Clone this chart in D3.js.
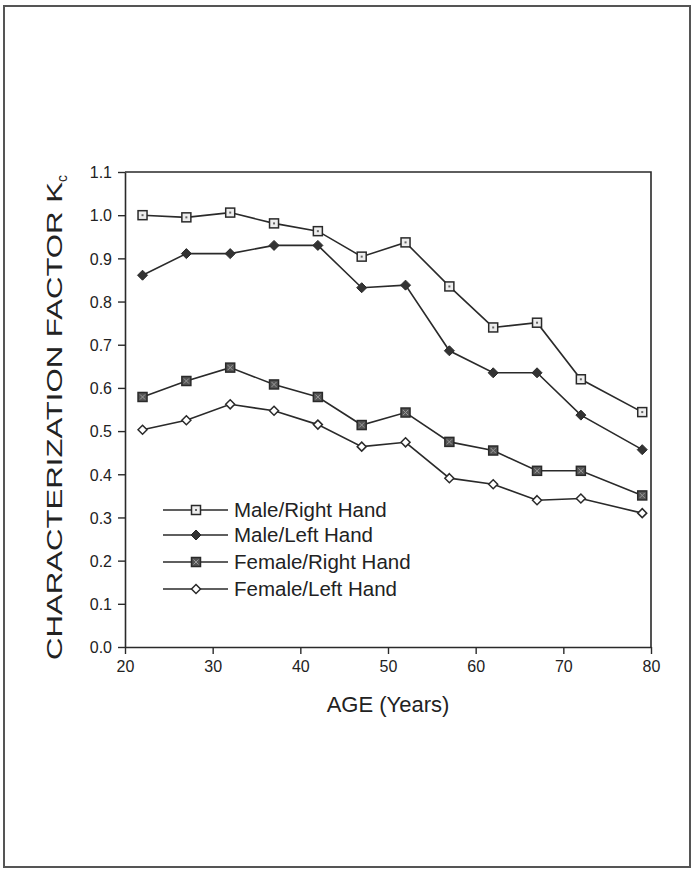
<!DOCTYPE html>
<html>
<head>
<meta charset="utf-8">
<script src="https://cdn.jsdelivr.net/npm/d3@7/dist/d3.min.js"></script>
<style>
  html, body { margin: 0; padding: 0; background: #fff; }
  svg { display: block; }
  text { font-family: "Liberation Sans", Arial, Helvetica, sans-serif; fill: #222; }
</style>
</head>
<body>
<svg id="chart" width="693" height="871"></svg>
<script>
// Age groups (years) at which the factor was measured
const ages = [22, 27, 32, 37, 42, 47, 52, 57, 62, 67, 72, 79];

// Characterization factor Kc per group
const maleRight   = [1.000, 0.995, 1.006, 0.981, 0.963, 0.904, 0.937, 0.835, 0.740, 0.751, 0.620, 0.544];
const maleLeft    = [0.861, 0.911, 0.911, 0.930, 0.930, 0.832, 0.838, 0.686, 0.635, 0.635, 0.537, 0.457];
const femaleRight = [0.579, 0.616, 0.647, 0.608, 0.579, 0.514, 0.543, 0.475, 0.455, 0.408, 0.408, 0.351];
const femaleLeft  = [0.503, 0.525, 0.562, 0.547, 0.515, 0.464, 0.474, 0.391, 0.377, 0.340, 0.344, 0.310];

const seriesNames = ["Male/Right Hand", "Male/Left Hand", "Female/Right Hand", "Female/Left Hand"];
const xTicks = [20, 30, 40, 50, 60, 70, 80];
const yTicks = [0.0, 0.1, 0.2, 0.3, 0.4, 0.5, 0.6, 0.7, 0.8, 0.9, 1.0, 1.1];

const series = [
  { name: seriesNames[0], values: maleRight,   marker: "openSquare" },
  { name: seriesNames[1], values: maleLeft,    marker: "filledDiamond" },
  { name: seriesNames[2], values: femaleRight, marker: "hatchSquare" },
  { name: seriesNames[3], values: femaleLeft,  marker: "openDiamond" }
];

const svg = d3.select("#chart");
const ink = "#2a2a2a";

// outer page frame
svg.append("rect")
  .attr("x", 4).attr("y", 6).attr("width", 686).attr("height", 861)
  .attr("fill", "none").attr("stroke", "#555").attr("stroke-width", 2);

const plot = { left: 125, right: 651, top: 172, bottom: 647 };

const x = d3.scaleLinear().domain([20, 80]).range([plot.left, plot.right]);
const y = d3.scaleLinear().domain([0, 1.1]).range([plot.bottom, plot.top]);

// plot box (top and right edges)
svg.append("path")
  .attr("d", `M${plot.left},${plot.top}H${plot.right}V${plot.bottom}`)
  .attr("fill", "none").attr("stroke", ink).attr("stroke-width", 1.6);

// axes
const xAxis = svg.append("g")
  .attr("transform", `translate(0,${plot.bottom})`)
  .call(d3.axisBottom(x).tickValues(xTicks).tickFormat(d3.format("d")).tickSize(7).tickSizeOuter(0));
const yAxis = svg.append("g")
  .attr("transform", `translate(${plot.left},0)`)
  .call(d3.axisLeft(y).tickValues(yTicks).tickFormat(d3.format(".1f")).tickSize(7).tickSizeOuter(0));

[xAxis, yAxis].forEach(g => {
  g.select(".domain").attr("stroke", ink).attr("stroke-width", 1.6);
  g.selectAll(".tick line").attr("stroke", ink).attr("stroke-width", 1.4);
  g.selectAll(".tick text")
    .attr("font-family", "'Liberation Sans', Arial, sans-serif")
    .attr("font-size", 16).attr("fill", "#222");
});
// bottom axis: ticks point down, labels below
xAxis.selectAll(".tick text").attr("y", 12).attr("dy", "0.8em");
yAxis.selectAll(".tick text").attr("x", -13).attr("dy", "0.36em");

// axis titles
svg.append("text")
  .attr("x", (plot.left + plot.right) / 2).attr("y", 712)
  .attr("text-anchor", "middle").attr("font-size", 22)
  .text("AGE (Years)");

// vertical title: text runs upward from y=660
const yTitle = svg.append("text")
  .attr("transform", "translate(62,660) rotate(-90)")
  .attr("text-anchor", "start").attr("font-size", 22);
yTitle.append("tspan")
  .attr("textLength", 478).attr("lengthAdjust", "spacingAndGlyphs")
  .text("CHARACTERIZATION FACTOR K");
yTitle.append("tspan").attr("font-size", 14).attr("dy", 5).text("c");

// marker drawing
function drawMarker(g, type) {
  if (type === "openSquare") {
    g.append("rect").attr("x", -4.5).attr("y", -4.5).attr("width", 9).attr("height", 9)
      .attr("fill", "#eee").attr("stroke", ink).attr("stroke-width", 1.5);
    g.append("rect").attr("x", -1).attr("y", -1).attr("width", 2).attr("height", 2).attr("fill", "#666");
  } else if (type === "filledDiamond") {
    g.append("path").attr("d", "M0,-5L5,0L0,5L-5,0Z")
      .attr("fill", "#333").attr("stroke", ink).attr("stroke-width", 1);
  } else if (type === "hatchSquare") {
    g.append("rect").attr("x", -4.5).attr("y", -4.5).attr("width", 9).attr("height", 9)
      .attr("fill", "#555").attr("stroke", ink).attr("stroke-width", 1.5);
    g.append("path").attr("d", "M-2.5,-2.5L2.5,2.5M2.5,-2.5L-2.5,2.5")
      .attr("stroke", "#999").attr("stroke-width", 1);
  } else {
    g.append("path").attr("d", "M0,-4.5L4.5,0L0,4.5L-4.5,0Z")
      .attr("fill", "#fff").attr("stroke", ink).attr("stroke-width", 1.5);
  }
}

const line = d3.line().x(d => x(d[0])).y(d => y(d[1]));

series.forEach(s => {
  const pts = ages.map((a, i) => [a, s.values[i]]);
  svg.append("path").datum(pts)
    .attr("d", line).attr("fill", "none")
    .attr("stroke", ink).attr("stroke-width", 1.6);
  svg.append("g").selectAll("g").data(pts).join("g")
    .attr("transform", d => `translate(${x(d[0])},${y(d[1])})`)
    .each(function () { drawMarker(d3.select(this), s.marker); });
});

// legend
const legendY = [510, 535, 562, 589];
const legend = svg.append("g");
series.forEach((s, i) => {
  const row = legend.append("g").attr("transform", `translate(0,${legendY[i]})`);
  row.append("line").attr("x1", 163).attr("x2", 228).attr("y1", 0).attr("y2", 0)
    .attr("stroke", ink).attr("stroke-width", 1.5);
  drawMarker(row.append("g").attr("transform", "translate(196,0)"), s.marker);
  row.append("text").attr("x", 234).attr("y", 0).attr("dy", "0.36em")
    .attr("font-size", 20.5).text(s.name);
});
</script>
</body>
</html>
